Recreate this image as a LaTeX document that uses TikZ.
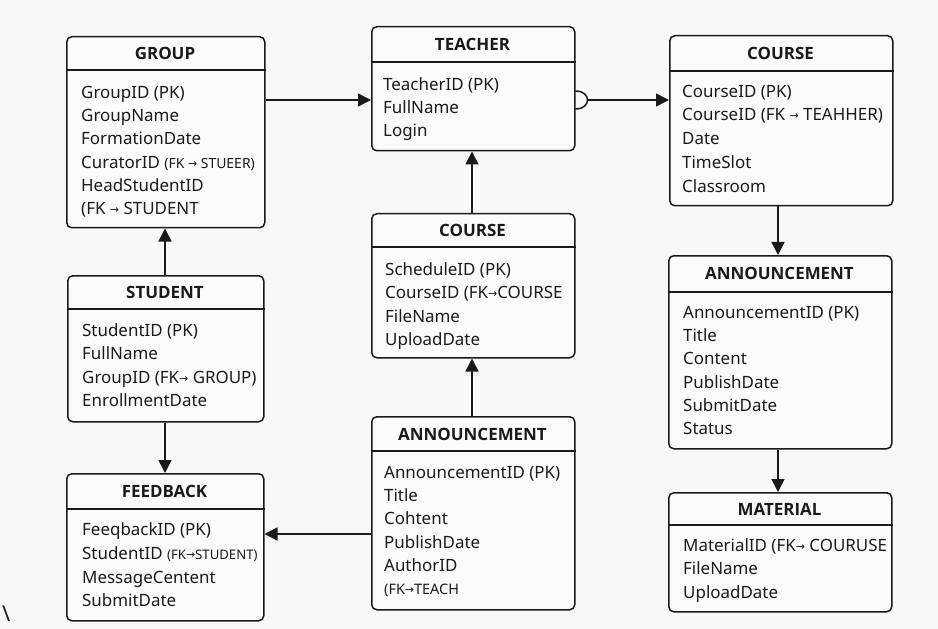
\documentclass[tikz,border=0pt]{standalone}
\usepackage{fontspec}
\setmainfont{Noto Sans}
\newfontfamily\headfont{Open Sans}
\newfontfamily\arrowfont{DejaVu Sans}
\usetikzlibrary{arrows.meta,calc}

\definecolor{ink}{HTML}{1A1A1A}
\definecolor{paper}{HTML}{F8F8F8}
\definecolor{cardfill}{HTML}{FBFBFB}

% small arrow used inside foreign-key notes
\newcommand{\fkto}{{\arrowfont\fontsize{11}{11}\selectfont\raisebox{1bp}{→}}}
% reduced size for some foreign-key notes
\newcommand{\fknote}[2][14]{{\fontsize{#1}{#1}\selectfont #2}}

\tikzset{
  card/.style={draw=ink, line width=1.5bp, rounded corners=5bp, fill=cardfill,
               anchor=north west, inner sep=0pt},
  heading/.style={font=\headfont\bfseries\fontsize{17}{18}\selectfont, text=ink,
                  anchor=base, inner sep=0pt},
  field/.style={font=\fontsize{17}{19}\selectfont, text=ink,
                anchor=base west, inner sep=0pt},
  divider/.style={draw=ink, line width=1.5bp},
  rel/.style={draw=ink, line width=1.5bp, -{Triangle[length=13bp,width=13bp]}},
}

% entity card: name, x1, y1, x2, y2, divider y, title
\newcommand{\entitybox}[7]{%
  \node[card, minimum width={(#4-#2)*1bp}, minimum height={(#5-#3)*1bp}] (#1) at (#2,#3) {};
  \draw[divider] (#1.west |- 0,#6) -- (#1.east |- 0,#6);
  \node[heading] (#1-title) at ({(#2+#4)/2},{(#3+#6)/2+6.5}) {#7};
}

\begin{document}
\begin{tikzpicture}[x=1bp,y=-1bp]
  \fill[paper] (0,0) rectangle (938,629);
  \useasboundingbox (0,0) rectangle (938,629);

  % ---- GROUP ----
  \entitybox{group}{66}{36}{264}{227}{70}{GROUP}
  \node[field] (group-f1) at (81,98.5)  {GroupID (PK)};
  \node[field] (group-f2) at (81,121.5) {GroupName};
  \node[field] (group-f3) at (81,144.5) {FormationDate};
  \node[field] (group-f4) at (81,168.5) {CuratorID \fknote{(FK \fkto{} STUEER)}};
  \node[field] (group-f5) at (81,191.5) {HeadStudentID};
  \node[field] (group-f6) at (81,214.5) {(FK \fkto{} STUDENT};

  % ---- TEACHER ----
  \entitybox{teacher}{371}{26}{574}{150}{62}{TEACHER}
  \node[field] (teacher-f1) at (383,90.5)  {TeacherID (PK)};
  \node[field] (teacher-f2) at (383,113.5) {FullName};
  \node[field] (teacher-f3) at (383,136.5) {Login};

  % ---- COURSE (right) ----
  \entitybox{courseR}{669}{35}{892}{205}{71}{COURSE}
  \node[field] (courseR-f1) at (682,97.5)  {CourseID (PK)};
  \node[field] (courseR-f2) at (682,120.5) {CourseID (FK \fkto{} TEAHHER)};
  \node[field] (courseR-f3) at (682,144.5) {Date};
  \node[field] (courseR-f4) at (682,168.5) {TimeSlot};
  \node[field] (courseR-f5) at (682,192.5) {Classroom};

  % ---- STUDENT ----
  \entitybox{student}{67}{275}{263}{421}{309}{STUDENT}
  \node[field] (student-f1) at (82,336.5) {StudentID (PK)};
  \node[field] (student-f2) at (82,359.5) {FullName};
  \node[field] (student-f3) at (82,383.5) {GroupID (FK\fkto{} GROUP)};
  \node[field] (student-f4) at (82,406.5) {EnrollmentDate};

  % ---- COURSE (middle) ----
  \entitybox{courseM}{371}{213}{574}{357}{247}{COURSE}
  \node[field] (courseM-f1) at (385,275.5) {ScheduleID (PK)};
  \node[field] (courseM-f2) at (385,298.5) {CourseID (FK\fkto{}COURSE};
  \node[field] (courseM-f3) at (385,322.5) {FileName};
  \node[field] (courseM-f4) at (385,345.5) {UploadDate};

  % ---- ANNOUNCEMENT (right) ----
  \entitybox{annR}{668}{255}{891}{448}{292}{ANNOUNCEMENT}
  \node[field] (annR-f1) at (683,318.5) {AnnouncementID (PK)};
  \node[field] (annR-f2) at (683,341.5) {Title};
  \node[field] (annR-f3) at (683,364.5) {Content};
  \node[field] (annR-f4) at (683,388.5) {PublishDate};
  \node[field] (annR-f5) at (683,411.5) {SubmitDate};
  \node[field] (annR-f6) at (683,434.5) {Status};

  % ---- MATERIAL ----
  \entitybox{material}{668}{492}{891}{611}{525}{MATERIAL}
  \node[field] (material-f1) at (683,551.5) {MaterialID (FK\fkto{} COURUSE};
  \node[field] (material-f2) at (683,574.5) {FileName};
  \node[field] (material-f3) at (683,598.5) {UploadDate};

  % ---- FEEDBACK ----
  \entitybox{feedback}{66}{473}{263}{620}{509}{FEEDBACK}
  \node[field] (feedback-f1) at (82,535.5) {FeeqbackID (PK)};
  \node[field] (feedback-f2) at (82,559.5) {StudentID \fknote[13.2]{(FK\fkto{}STUDENT)}};
  \node[field] (feedback-f3) at (82,583.5) {MessageCentent};
  \node[field] (feedback-f4) at (82,606.5) {SubmitDate};

  % ---- ANNOUNCEMENT (middle) ----
  \entitybox{annM}{371}{416}{574}{609}{451}{ANNOUNCEMENT}
  \node[field] (annM-f1) at (384,478.5) {AnnouncementID (PK)};
  \node[field] (annM-f2) at (384,501.5) {Title};
  \node[field] (annM-f3) at (384,524.5) {Cohtent};
  \node[field] (annM-f4) at (384,548.5) {PublishDate};
  \node[field] (annM-f5) at (384,571.5) {AuthorID};
  \node[field] (annM-f6) at (384,594) {\fknote[14.5]{(FK\fkto{}TEACH}};

  % ---- relationships ----
  \draw[rel] (group.east |- 0,100) -- (teacher.west |- 0,100);

  \draw[divider] (teacher.east |- 0,91) .. controls +(16,0) and +(16,0) .. (teacher.east |- 0,109);
  \coordinate (hop) at ($(teacher.east |- 0,100)+(12,0)$);
  \draw[rel] (hop) -- (courseR.west |- hop);

  \draw[rel] (courseR.south -| 778,0) -- (annR.north -| 778,0);
  \draw[rel] (annR.south -| 778,0) -- (material.north -| 778,0);

  \draw[rel] (student.north -| 165,0) -- (group.south -| 165,0);
  \draw[rel] (student.south -| 165,0) -- (feedback.north -| 165,0);

  \draw[rel] (courseM.north -| 472,0) -- (teacher.south -| 472,0);
  \draw[rel] (annM.north -| 472,0) -- (courseM.south -| 472,0);
  \draw[rel] (annM.west |- 0,534) -- (feedback.east |- 0,534);

  % stray mark in the lower left corner
  \node[font=\fontsize{22}{22}\selectfont, text=ink, anchor=base west, inner sep=0pt]
    (mark) at (2,621) {\textbackslash};
\end{tikzpicture}
\end{document}
